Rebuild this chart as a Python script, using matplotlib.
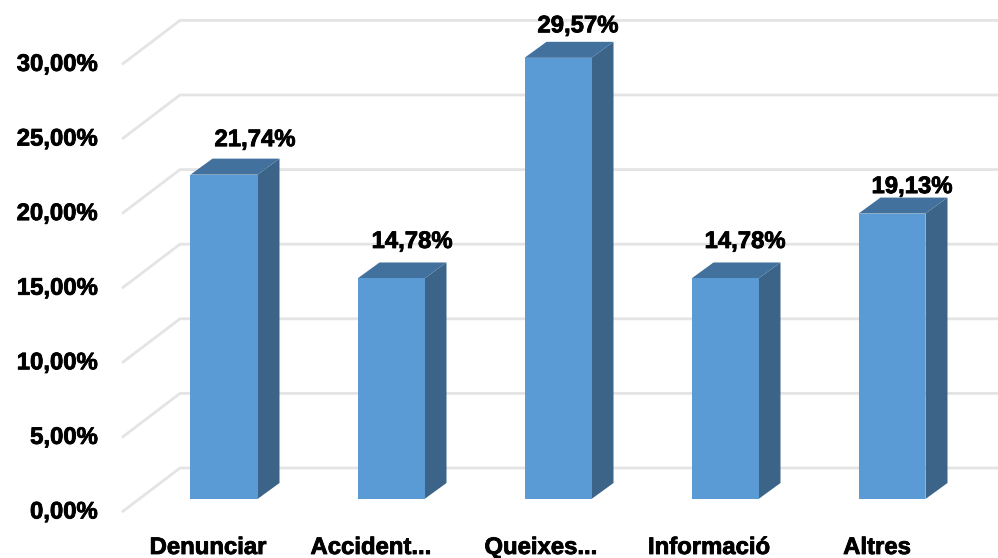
import matplotlib
matplotlib.use("Agg")
import matplotlib.pyplot as plt
import matplotlib.patheffects as pe
from matplotlib.patches import Polygon

categories = ["Denunciar", "Accident...", "Queixes...", "Informació", "Altres"]
values = [21.74, 14.78, 29.57, 14.78, 19.13]
value_labels = ["21,74%", "14,78%", "29,57%", "14,78%", "19,13%"]
y_ticks = [0, 5, 10, 15, 20, 25, 30]
y_tick_labels = ["0,00%", "5,00%", "10,00%", "15,00%", "20,00%", "25,00%", "30,00%"]

# label nudges in pixels, relative to each bar
label_dx_px = [31, 21, 20, 20, 20]
label_dy_px = [19, 21, 16, 21, 11]
cat_dx_px = [-16, -20, -17, -16, -15]

W, H = 998, 558
STEP_PX = 167.0      # px per category
PCT_PX = 14.92       # px per percentage point
X0_PX = 224.0        # centre of the first bar, front face
Y0_PX = 499.0        # base of the bars

def dx(px):
    return px / STEP_PX

def dy(px):
    return px / PCT_PX

FONT = "Liberation Sans"
FRONT = "#5B9BD5"
TOP = "#41719C"
SIDE = "#3B6488"
GRID = "#E4E4E4"
TEXT = "#000000"
FS = 17.2
HEAVY = [pe.withStroke(linewidth=0.6, foreground=TEXT)]

fig = plt.figure(figsize=(W / 100, H / 100), dpi=100, facecolor="white")
ax = fig.add_axes([0, 0, 1, 1])
ax.set_xlim(-X0_PX / STEP_PX, (W - X0_PX) / STEP_PX)
ax.set_ylim((Y0_PX - H) / PCT_PX, Y0_PX / PCT_PX)
ax.axis("off")

bar_w = dx(67)
depth_x = dx(22)
depth_y = dy(16)
wall_left = dx(180 - X0_PX)
wall_right = dx(W - X0_PX)
wall_base = dy(Y0_PX - 468)
floor_left = wall_left - dx(58)
floor_base = wall_base - dy(44)

for t in y_ticks:
    ax.plot([floor_left, wall_left, wall_right],
            [t + floor_base, t + wall_base, t + wall_base],
            color=GRID, lw=2.0, zorder=1, solid_capstyle="butt", solid_joinstyle="miter")

for i, v in enumerate(values):
    l, r = i - bar_w / 2, i + bar_w / 2
    ax.add_patch(Polygon([(r, 0), (r + depth_x, depth_y), (r + depth_x, v + depth_y), (r, v)],
                         closed=True, fc=SIDE, ec="none", zorder=2))
    ax.add_patch(Polygon([(l, v), (r, v), (r + depth_x, v + depth_y), (l + depth_x, v + depth_y)],
                         closed=True, fc=TOP, ec="none", zorder=2))
    ax.add_patch(Polygon([(l, 0), (r, 0), (r, v), (l, v)],
                         closed=True, fc=FRONT, ec="none", zorder=3))
    ax.text(i + dx(label_dx_px[i]), v + depth_y + dy(label_dy_px[i]), value_labels[i],
            ha="center", va="center", path_effects=HEAVY,
            fontsize=FS, fontweight="bold", family=FONT, color=TEXT, zorder=5)
    ax.text(i + dx(cat_dx_px[i]), dy(-55), categories[i], ha="center", va="baseline",
            path_effects=HEAVY,
            fontsize=FS, fontweight="bold", family=FONT, color=TEXT, zorder=5)

for t, s in zip(y_ticks, y_tick_labels):
    ax.text(dx(98 - X0_PX), t + dy(-13), s, ha="right", va="center", path_effects=HEAVY,
            fontsize=FS, fontweight="bold", family=FONT, color=TEXT, zorder=5)

fig.savefig("out.png", dpi=100, facecolor="white")
